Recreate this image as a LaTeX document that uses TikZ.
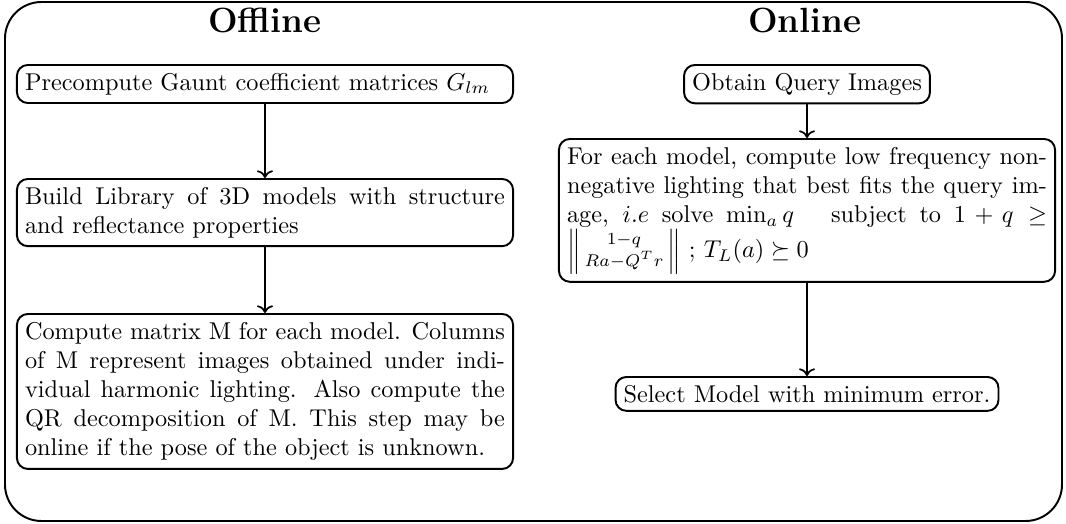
\documentclass[tikz,border=0pt]{standalone}
\usepackage{amsmath,amssymb}
\usetikzlibrary{arrows.meta}
\begin{document}
\begin{tikzpicture}[x=0.4115pt,y=-0.4115pt,
  box/.style={draw,line width=0.8pt,rounded corners=4.5pt,inner sep=0.3333em},
  wbox/.style={box,text width=197.5pt,align=justify},
  arr/.style={->,line width=0.7pt},
  ttl/.style={font=\Large\bfseries,anchor=base},
  frame/.style={draw,line width=0.8pt,rounded corners=15pt}]
\useasboundingbox (0,0) rectangle (1066,524);
\draw[frame] (5,2) rectangle (1062,521);
\node[ttl] (toff) at (265,32) {Offline};
\node[ttl] (ton) at (805,32) {Online};
\node[wbox,anchor=north] (b1) at (265,64) {Precompute Gaunt coefficient matrices $G_{lm}$};
\node[wbox,anchor=north] (b2) at (265,178) {Build Library of 3D models with structure\linebreak and reflectance properties};
\node[wbox,anchor=north] (b3) at (265,313) {Compute matrix M for each model. Columns\linebreak of M represent images obtained under indi-\linebreak vidual harmonic lighting. Also compute the\linebreak QR decomposition of M. This step may be\linebreak online if the pose of the object is unknown.};
\node[box,anchor=north] (r1) at (807,64) {Obtain Query Images};
\node[wbox,anchor=north] (r2) at (807,138) {For each model, compute low frequency non-\linebreak negative lighting that best fits the query im-\linebreak age, $i.e$ solve $\min_a q\quad$ subject to $1+q\geq$\linebreak $\left\|\begin{smallmatrix}1-q\\ Ra-Q^Tr\end{smallmatrix}\right\|$ ; $T_L(a)\succeq 0$};
\node[box,anchor=north] (r3) at (807,376) {Select Model with minimum error.};
\draw[arr] (b1.south) -- (b2.north);
\draw[arr] (b2.south) -- (b3.north);
\draw[arr] (r1.south) -- (r2.north);
\draw[arr] (r2.south) -- (r3.north);
\end{tikzpicture}
\end{document}
